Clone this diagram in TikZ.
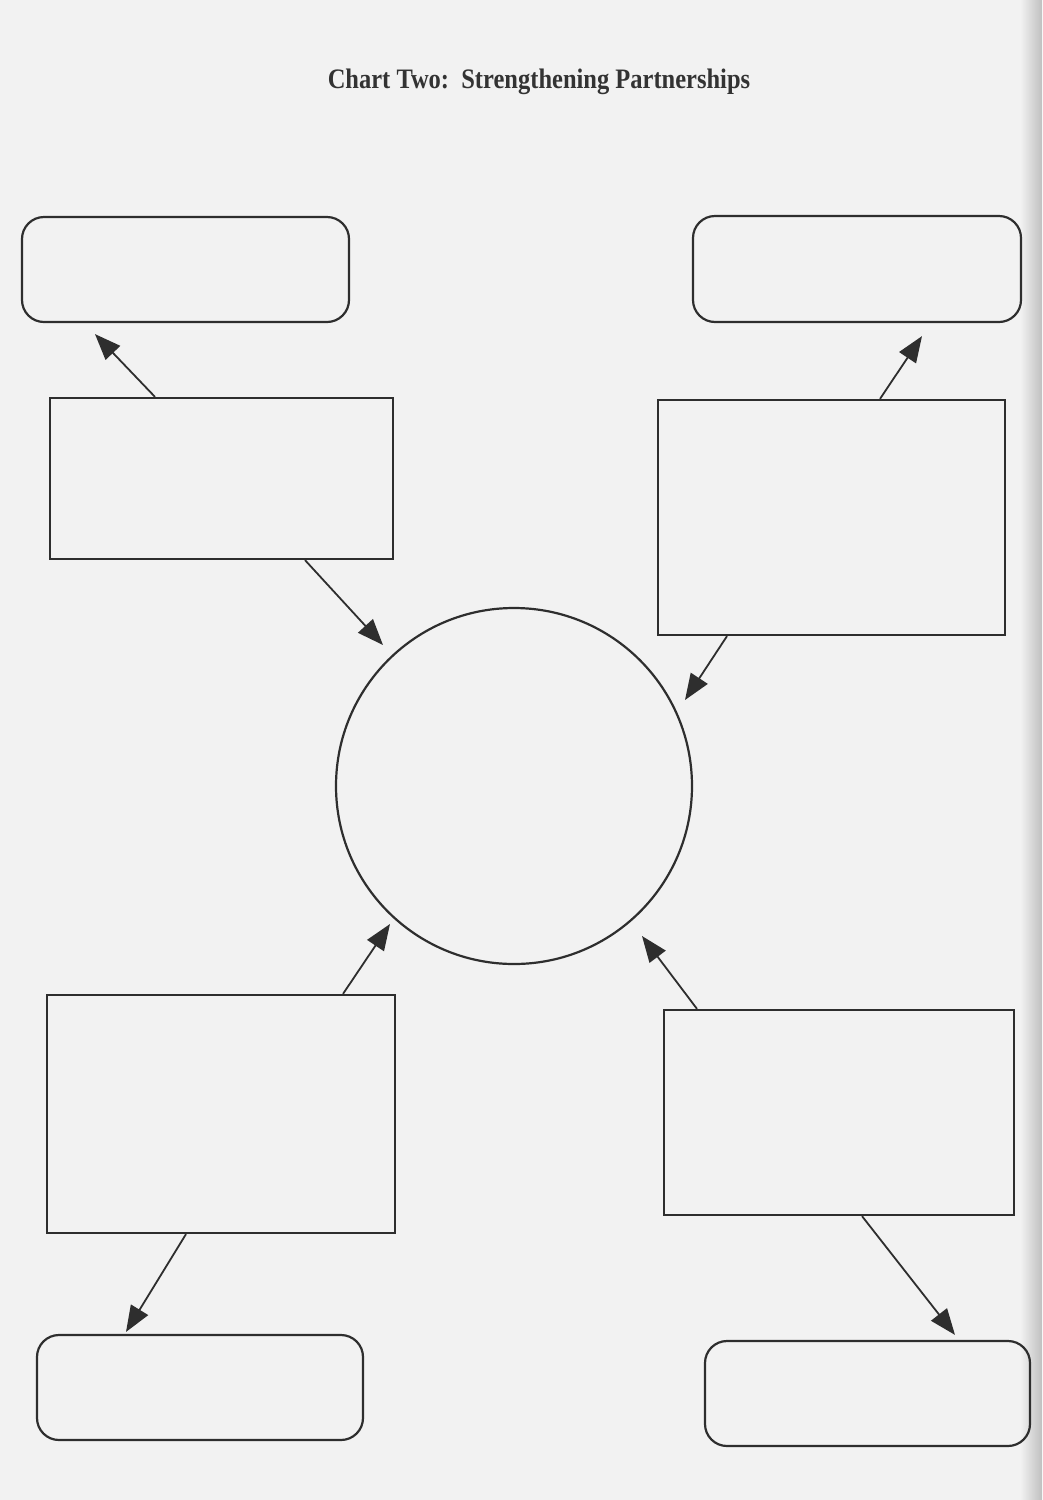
\documentclass[tikz,border=0pt]{standalone}
\usepackage{fontspec}
\setmainfont{Liberation Serif}
\usetikzlibrary{arrows.meta,calc}
\begin{document}
\begin{tikzpicture}[x=1pt,y=-1pt,
 shp/.style={draw=black!82,line width=2.2pt,inner sep=0pt},
 rbox/.style={shp,rounded corners=22pt},
 sbox/.style={shp},
 arr/.style={draw=black!82,line width=1.8pt,-{Triangle[length=26pt,width=20pt]}}]
\fill[black!5] (0,0) rectangle (1042,1500);
\shade[left color=black!5,right color=black!25] (1020,0) rectangle (1042,1500);
\useasboundingbox (0,0) rectangle (1042,1500);

\node[font=\bfseries\fontsize{24.5}{28}\selectfont,text=black!80,yscale=1.15] (title) at (539,82) {Chart Two:\ \ Strengthening Partnerships};

\node[rbox,minimum width=327pt,minimum height=105pt] (tl) at (185.5,269.5) {};
\node[rbox,minimum width=328pt,minimum height=106pt] (tr) at (857,269) {};
\node[sbox,minimum width=343pt,minimum height=161pt] (lt) at (221.5,478.5) {};
\node[sbox,minimum width=347pt,minimum height=235pt] (rt) at (831.5,517.5) {};
\node[shp,circle,minimum size=356pt] (c) at (514,786) {};
\node[sbox,minimum width=348pt,minimum height=238pt] (lb) at (221,1114) {};
\node[sbox,minimum width=350pt,minimum height=205pt] (rb) at (839,1112.5) {};
\node[rbox,minimum width=326pt,minimum height=105pt] (bl) at (200,1387.5) {};
\node[rbox,minimum width=325pt,minimum height=105pt] (br) at (867.5,1393.5) {};

\draw[arr] ([xshift=-66.5pt]lt.north) -- ([xshift=-90.5pt,yshift=-11pt]tl.south);
\draw[arr] ([xshift=83.5pt]lt.south) -- ($(c.center)+(-131,-141)$);
\draw[arr] ([xshift=48.5pt]rt.north) -- ([xshift=65pt,yshift=-13pt]tr.south);
\draw[arr] ([xshift=-104.5pt]rt.south) -- ($(c.center)+(171,-86)$);
\draw[arr] ([xshift=122pt]lb.north) -- ($(c.center)+(-124,138)$);
\draw[arr] ([xshift=-142pt]rb.north) -- ($(c.center)+(128,150)$);
\draw[arr] ([xshift=-35pt]lb.south) -- ([xshift=-74pt,yshift=2pt]bl.north);
\draw[arr] ([xshift=23pt]rb.south) -- ([xshift=87.5pt,yshift=5pt]br.north);
\end{tikzpicture}
\end{document}
